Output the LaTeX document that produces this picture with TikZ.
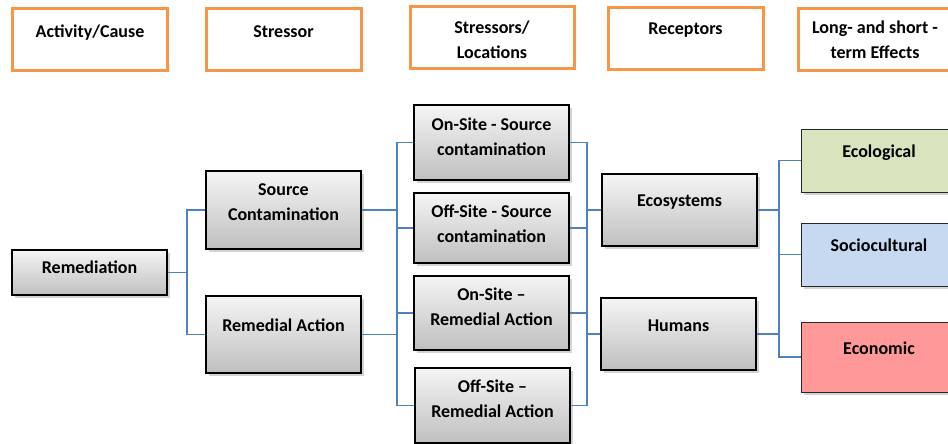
\documentclass[tikz,border=0pt]{standalone}
\usepackage{fontspec}
\setmainfont{Carlito}
\usetikzlibrary{shadows}

\definecolor{hdrorange}{HTML}{F79646}
\definecolor{connblue}{HTML}{4F81BD}
\definecolor{ecolgreen}{HTML}{D7E4BD}
\definecolor{socblue}{HTML}{C6D9F1}
\definecolor{econred}{HTML}{FF9999}

\tikzset{
  lbl/.style={anchor=north,inner sep=0pt,align=center,
    font=\fontsize{18}{25}\selectfont\bfseries},
  hdrbox/.style={draw=hdrorange,line width=3pt,minimum width=155,minimum height=62},
  graybox/.style={draw=black,line width=1.3pt,top color=gray!8,bottom color=gray!50,
    minimum width=155,drop shadow={shadow xshift=2.5pt,shadow yshift=-2.5pt,opacity=.35}},
  effbox/.style={draw=black!85,line width=1pt,fill=#1,minimum width=156,
    drop shadow={shadow xshift=2.5pt,shadow yshift=-2.5pt,opacity=.35}},
  conn/.style={draw=connblue,line width=1.2pt}
}

\begin{document}
\begin{tikzpicture}[x=1pt,y=-1pt]
    \path[use as bounding box] (0,0) rectangle (948,444);
    \clip (0,0) rectangle (948,444);

    % Column headers
    \node[hdrbox,label={[lbl,yshift=-17.5]north:Activity/Cause}] (act) at (90,40) {};
    \node[hdrbox,label={[lbl,yshift=-17.5]north:Stressor}] (strs) at (283.5,40) {};
    \node[hdrbox,minimum width=164,label={[lbl,yshift=-15]north:{Stressors/\\Locations}}] (loc) at (492,38) {};
    \node[hdrbox,label={[lbl,yshift=-16.5]north:Receptors}] (rec) at (685.5,39) {};
    \node[hdrbox,minimum width=154,label={[lbl,yshift=-13]north:{Long- and short -\\term Effects}}] (eff) at (875,40) {};

    % Activity and stressors
    \node[graybox,minimum height=45,label={[lbl,yshift=-11.5]north:Remediation}] (rem) at (89.5,272.5) {};
    \node[graybox,minimum height=78,label={[lbl,yshift=-13]north:{Source\\Contamination}}] (src) at (283.5,210) {};
    \node[graybox,minimum height=77,label={[lbl,yshift=-23.5]north:Remedial Action}] (ract) at (283.5,334.5) {};

    % Locations
    \node[graybox,minimum height=75,label={[lbl,yshift=-13.5]north:{On-Site - Source\\contamination}}] (onsrc) at (491.5,142.5) {};
    \node[graybox,minimum height=70,label={[lbl,yshift=-12.5]north:{Off-Site - Source\\contamination}}] (offsrc) at (491.5,228) {};
    \node[graybox,minimum height=74,label={[lbl,yshift=-12.5]north:{On-Site --\\Remedial Action}}] (onra) at (491.5,313) {};
    \node[graybox,minimum height=75,label={[lbl,yshift=-12.5]north:{Off-Site --\\Remedial Action}}] (offra) at (492.5,405.5) {};

    % Receptors
    \node[graybox,minimum height=72,label={[lbl,yshift=-21]north:Ecosystems}] (eco) at (679.5,210) {};
    \node[graybox,minimum height=72,label={[lbl,yshift=-22]north:Humans}] (hum) at (678.5,334) {};

    % Effects
    \node[effbox=ecolgreen,minimum height=63,label={[lbl,yshift=-16.5]north:Ecological}] (ecol) at (879,160.5) {};
    \node[effbox=socblue,minimum height=63,label={[lbl,yshift=-16.5]north:Sociocultural}] (soc) at (879,254.5) {};
    \node[effbox=econred,minimum height=70,label={[lbl,yshift=-20.5]north:Economic}] (econ) at (879,357) {};

    % Trunk positions of the connectors
    \coordinate (t1) at (187,0);
    \coordinate (t2) at (397,0);
    \coordinate (t3) at (587,0);
    \coordinate (t4) at (779,0);

    % Remediation -> stressors
    \draw[conn] (rem.east) -- (rem.east -| t1) |- (src.west)
                (rem.east -| t1) |- (ract.west);

    % Stressors -> locations
    \draw[conn] (src.east) -- (src.east -| t2) |- (onsrc.west)
                (src.east -| t2) |- (offsrc.west)
                (src.east -| t2) |- (onra.west);
    \draw[conn] (ract.east) -- (ract.east -| t2) |- (onra.west)
                (ract.east -| t2) |- (offra.west);

    % Locations -> receptors
    \draw[conn] (onsrc.east) -- (onsrc.east -| t3) |- (eco.west);
    \draw[conn] (offsrc.east) -- (offsrc.east -| t3) |- (eco.west)
                (offsrc.east -| t3) |- (hum.west);
    \draw[conn] (onra.east) -- (onra.east -| t3) |- (hum.west);
    \draw[conn] (offra.east) -- (offra.east -| t3) |- (hum.west);

    % Receptors -> effects
    \draw[conn] (eco.east) -- (eco.east -| t4) |- (ecol.west)
                (eco.east -| t4) |- (soc.west);
    \draw[conn] (hum.east) -- (hum.east -| t4) |- (econ.west)
                (hum.east -| t4) |- (soc.west);
\end{tikzpicture}
\end{document}
